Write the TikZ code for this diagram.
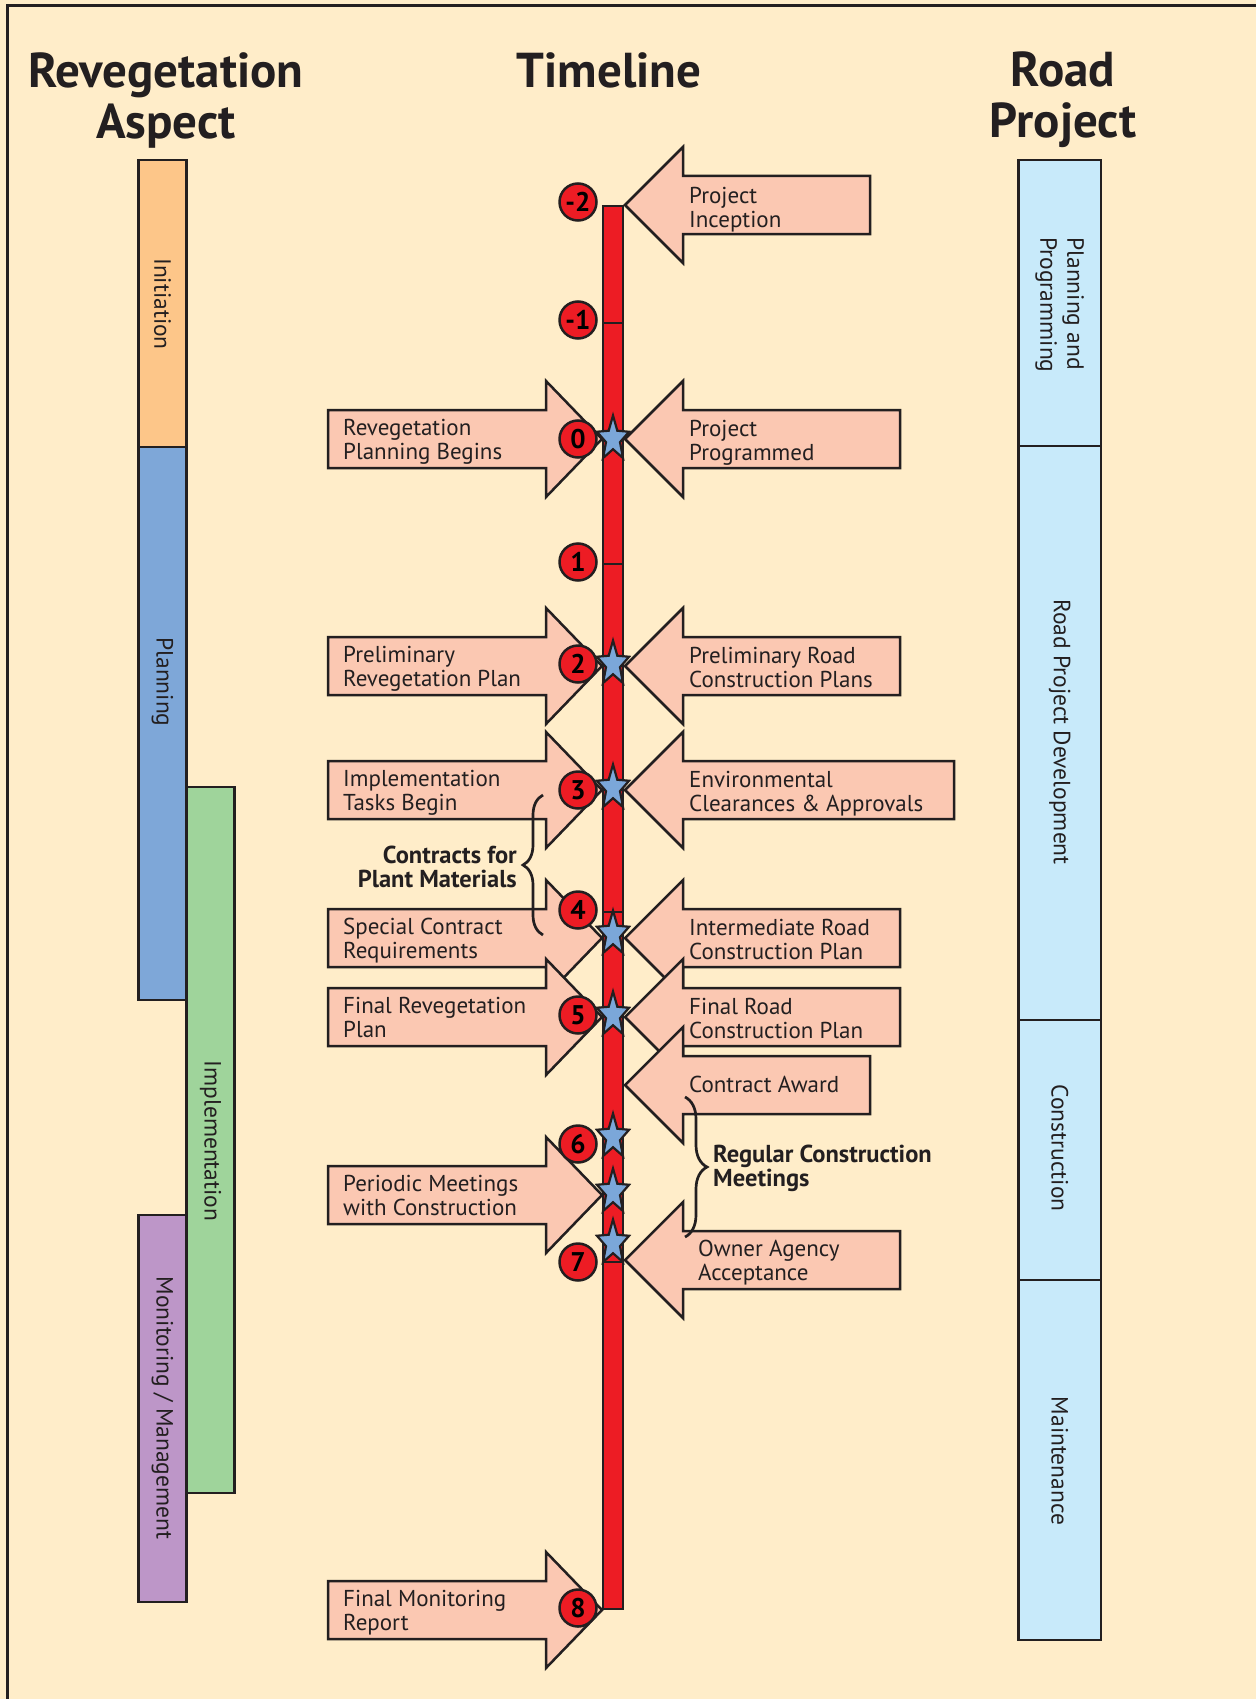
\documentclass[tikz,border=0pt]{standalone}
\usepackage{fontspec}
\setmainfont{PT Sans}
\usetikzlibrary{positioning,shapes.geometric,decorations.pathreplacing}
\definecolor{creambg}{HTML}{FFEDC9}
\definecolor{darkline}{HTML}{231F20}
\definecolor{arrowpink}{HTML}{FBC8B2}
\definecolor{timered}{HTML}{ED1C24}
\definecolor{starblue}{HTML}{7BA7D9}
\definecolor{initorange}{HTML}{FDC689}
\definecolor{planblue}{HTML}{7EA7D8}
\definecolor{implgreen}{HTML}{9FD49B}
\definecolor{monpurple}{HTML}{BD96C8}
\definecolor{roadblue}{HTML}{C8EAFA}
\begin{document}
\begin{tikzpicture}[x=1pt,y=-1pt,
	arrowbox/.style={draw=darkline,fill=arrowpink,line width=2.5pt},
	barbox/.style={draw=darkline,line width=2.8pt},
	numcircle/.style={circle,draw=darkline,fill=timered,line width=2.5pt,minimum size=37pt,inner sep=0pt,font=\myfontnumber},
	starmark/.style={star,star points=5,star point ratio=2.3,minimum size=47pt,inner sep=0pt,xscale=0.72,draw=darkline,fill=starblue,line width=2.2pt},
	arrowtext/.style={anchor=north west,align=left,inner sep=0pt,text=darkline,font=\myfontlabel},
	boldtext/.style={inner sep=0pt,text=darkline,font=\myfontbold},
	headtext/.style={anchor=north,align=center,inner sep=0pt,text=darkline,font=\myfonthead},
	sidetext/.style={rotate=-90,inner sep=0pt,text=darkline,font=\myfontside},
	bracebox/.style={draw=darkline,line width=2.7pt,decorate,decoration={brace,amplitude=#1}}]
	\newcommand{\myfonthead}{\fontsize{49}{51}\selectfont\bfseries}
	\newcommand{\myfontlabel}{\fontsize{23}{24}\selectfont}
	\newcommand{\myfontside}{\fontsize{23.5}{27}\selectfont}
	\newcommand{\myfontbold}{\fontsize{24.5}{24}\selectfont\bfseries}
	\newcommand{\myfontnumber}{\fontsize{27}{24}\selectfont\bfseries}
	%Background and frame
	\fill[creambg] (0,0) rectangle (1256,1699);
	\useasboundingbox (0,0) rectangle (1256,1699);
	\draw[darkline,line width=3pt] (7,1699) -- (7,5.5) -- (1256,5.5);
	%Headings
	\node[headtext] (headrev) at (166,52) {Revegetation\\Aspect};
	\node[headtext] (headtime) at (609,52) {Timeline};
	\node[headtext] (headroad) at (1063,52) {Road\\Project};
	%Revegetation phases on the left
	\draw[barbox,fill=initorange] (138.5,160) rectangle (186.5,447);
	\draw[barbox,fill=planblue] (138.5,447) rectangle (186.5,1000);
	\draw[barbox,fill=implgreen] (186.5,787) rectangle (234.5,1493);
	\draw[barbox,fill=monpurple] (138.5,1215) rectangle (186.5,1602);
	\node[sidetext] (initiation) at (162.5,304) {Initiation};
	\node[sidetext] (planning) at (162.5,682) {Planning};
	\node[sidetext] (implementation) at (210.5,1141) {Implementation};
	\node[sidetext] (monitoring) at (162.5,1408) {Monitoring / Management};
	%Road project phases on the right
	\draw[barbox,fill=roadblue] (1018.5,160) rectangle (1101,446);
	\draw[barbox,fill=roadblue] (1018.5,446) rectangle (1101,1020);
	\draw[barbox,fill=roadblue] (1018.5,1020) rectangle (1101,1280);
	\draw[barbox,fill=roadblue] (1018.5,1280) rectangle (1101,1640);
	\node[sidetext,align=left] (programming) at (1059.75,305) {Planning and\\Programming};
	\node[sidetext] (development) at (1059.75,732) {Road Project Development};
	\node[sidetext] (construction) at (1059.75,1148) {Construction};
	\node[sidetext] (maintenance) at (1059.75,1461) {Maintenance};
	%Arrows from the road project (pointing left)
	\foreach \cy/\rx in {205/870,439/900,666/900,790/954,938/900,1017/900,1085/870,1260/900} {
		\draw[arrowbox] (\rx,\cy-29) -- (683,\cy-29) -- (683,\cy-58) -- (625,\cy) -- (683,\cy+58) -- (683,\cy+29) -- (\rx,\cy+29) -- cycle;
	}
	%Arrows from the revegetation side (pointing right)
	\foreach \cy in {439,666,790,938,1017,1195,1610} {
		\draw[arrowbox] (328,\cy-29) -- (546,\cy-29) -- (546,\cy-58) -- (602,\cy) -- (546,\cy+58) -- (546,\cy+29) -- (328,\cy+29) -- cycle;
	}
	%Texts in the arrows
	\node[arrowtext] (inception) at (689,187) {Project\\Inception};
	\node[arrowtext] (programmed) at (689,420) {Project\\Programmed};
	\node[arrowtext] (prelroad) at (689,647) {Preliminary Road\\Construction Plans};
	\node[arrowtext] (clearances) at (689,771) {Environmental\\Clearances \& Approvals};
	\node[arrowtext] (interroad) at (689,919) {Intermediate Road\\Construction Plan};
	\node[arrowtext] (finalroad) at (689,998) {Final Road\\Construction Plan};
	\node[arrowtext] (award) at (689,1076) {Contract Award};
	\node[arrowtext] (acceptance) at (698,1240) {Owner Agency\\Acceptance};
	\node[arrowtext] (revbegins) at (343,419) {Revegetation\\Planning Begins};
	\node[arrowtext] (prelreveg) at (343,646) {Preliminary\\Revegetation Plan};
	\node[arrowtext] (tasks) at (343,770) {Implementation\\Tasks Begin};
	\node[arrowtext] (special) at (343,918) {Special Contract\\Requirements};
	\node[arrowtext] (finalreveg) at (343,997) {Final Revegetation\\Plan};
	\node[arrowtext] (periodic) at (343,1175) {Periodic Meetings\\with Construction};
	\node[arrowtext] (report) at (343,1590) {Final Monitoring\\Report};
	%Braces
	\draw[bracebox=20pt] (543,935) -- (543,795);
	\node[boldtext,anchor=north east,align=right] (contracts) at (517,846) {Contracts for\\Plant Materials};
	\draw[bracebox=22pt] (685,1097) -- (685,1237);
	\node[boldtext,anchor=north west,align=left] (meetings) at (713,1145) {Regular Construction\\Meetings};
	%The timeline
	\draw[darkline,fill=timered,line width=2.5pt] (603,206) rectangle (623,1609);
	\foreach \cy in {323,564,912,1262} {
		\draw[darkline,line width=2.5pt] (603,\cy) -- (623,\cy);
	}
	%Year numbers
	\foreach \nm/\lab/\cy in {m2/-2/202,m1/-1/320,0/0/439,1/1/562,2/2/664,3/3/790,4/4/910,5/5/1015,6/6/1144,7/7/1262,8/8/1608} {
		\node[numcircle] (num\nm) at (578,\cy) {\lab};
	}
	%Events
	\foreach \nm/\cy in {0/439,2/664,3/788,4/934,5/1015,6/1137,6b/1192,7/1243} {
		\node[starmark] (star\nm) at (613,\cy) {};
	}
\end{tikzpicture}
\end{document}
